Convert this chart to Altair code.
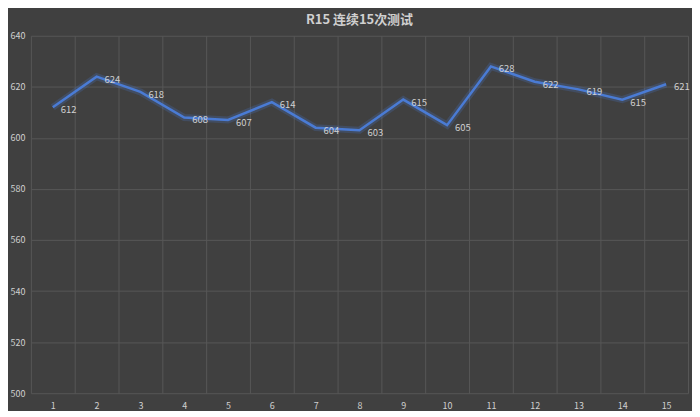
import altair as alt
import pandas as pd

# ---- data ----
runs = list(range(1, 16))
scores = [612, 624, 618, 608, 607, 614, 604, 603, 615, 605, 628, 622, 619, 615, 621]
y_ticks = [500, 520, 540, 560, 580, 600, 620, 640]
chart_title = "R15 连续15次测试"

df = pd.DataFrame({"run": runs, "score": scores})
bounds = [r - 0.5 for r in runs] + [runs[-1] + 0.5]

BG = "#404040"
GRID = "#575757"
TXT = "#d0d0d0"
LINE = "#4a7bd4"
FONT = "Noto Sans CJK SC"

xscale = alt.Scale(domain=[runs[0] - 0.5, runs[-1] + 0.5], nice=False, zero=False)
yscale = alt.Scale(domain=[y_ticks[0], y_ticks[-1]], nice=False, zero=False)

yaxis = alt.Axis(values=y_ticks, grid=True, gridColor=GRID, gridWidth=1,
                 ticks=False, domain=False, labelColor=TXT, labelFontSize=9,
                 labelFont=FONT, labelPadding=6, title=None)

base = alt.Chart(df)

glow = base.mark_line(color=LINE, strokeWidth=7, opacity=0.22).encode(
    x=alt.X("run:Q", scale=xscale, title=None,
            axis=alt.Axis(orient="top", values=bounds, labels=False, ticks=False,
                          domain=False, grid=True, gridColor=GRID, gridWidth=1)),
    y=alt.Y("score:Q", scale=yscale, title=None, axis=yaxis),
)

line = base.mark_line(color=LINE, strokeWidth=2.5).encode(
    x=alt.X("run:Q", scale=xscale, title=None,
            axis=alt.Axis(orient="bottom", values=runs, grid=False, ticks=False,
                          domain=False, labelColor=TXT, labelFontSize=9,
                          labelFont=FONT, labelPadding=8, format="d")),
    y=alt.Y("score:Q", scale=yscale, title=None, axis=yaxis),
)

labels = base.mark_text(align="left", baseline="middle", dx=8, dy=3,
                        fontSize=9.5, color=TXT, font=FONT).encode(
    x=alt.X("run:Q", scale=xscale, axis=None),
    y=alt.Y("score:Q", scale=yscale, title=None, axis=yaxis),
    text=alt.Text("score:Q", format="d"),
)

chart = (
    alt.layer(glow, line, labels)
    .resolve_axis(x="independent")
    .properties(
        width=660,
        height=359,
        background=BG,
        padding={"left": 2, "top": 5, "right": 2, "bottom": 0},
        title=alt.TitleParams(chart_title, color=TXT, fontSize=13, font=FONT,
                              fontWeight="bold", offset=5, anchor="middle"),
    )
    .configure_view(stroke=None)
)

chart.save("out.html", embed_options={"renderer": "svg", "actions": False})
